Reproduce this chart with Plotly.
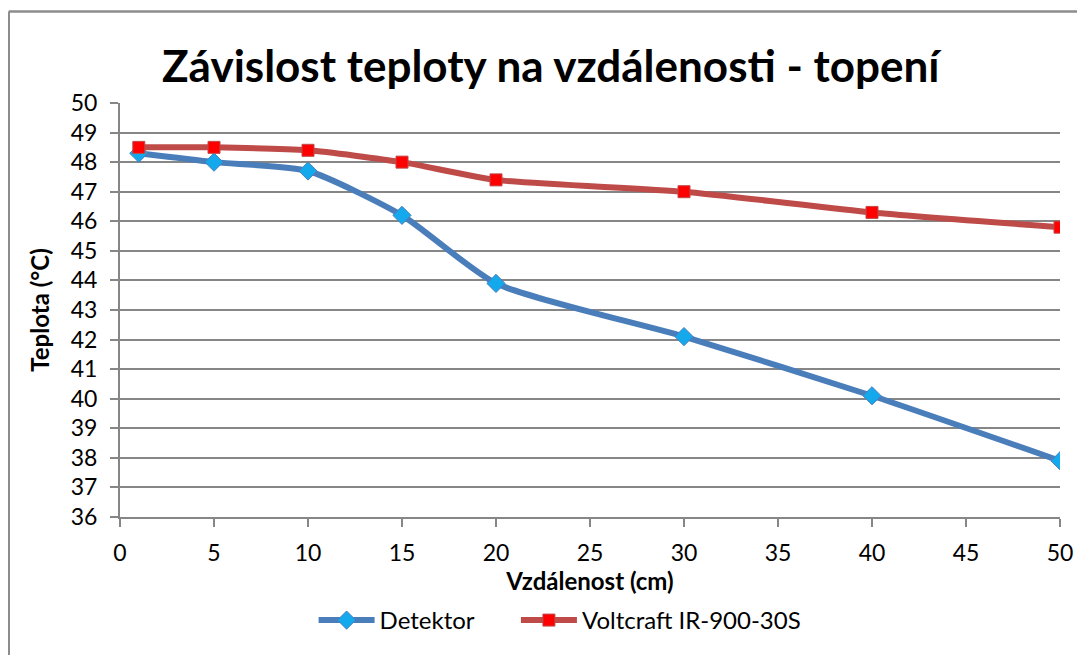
import plotly.graph_objects as go

x_cm = [1, 5, 10, 15, 20, 30, 40, 50]
detektor = [48.3, 48.0, 47.7, 46.2, 43.9, 42.1, 40.1, 37.9]
voltcraft = [48.5, 48.5, 48.4, 48.0, 47.4, 47.0, 46.3, 45.8]

series_names = ["Detektor", "Voltcraft IR-900-30S"]
title_text = "Závislost teploty na vzdálenosti - topení"
x_title = "Vzdálenost (cm)"
y_title = "Teplota (°C)"
font_family = "Lato, 'Open Sans', sans-serif"

# the page has an 8px body margin, so the figure is sized to fit the window
W, H = 1077, 647
ML, MR, MT, MB = 112, 23, 95, 136
PW, PH = W - ML - MR, H - MT - MB

fig = go.Figure()
fig.add_trace(go.Scatter(
    x=x_cm, y=detektor, name=series_names[0] + "&nbsp;" * 6, mode="lines+markers",
    line=dict(color="#4A7EBB", width=6, shape="spline", smoothing=0.6),
    marker=dict(symbol="diamond", size=14, color="#14A8EC", line=dict(color="#4A7EBB", width=1)),
))
fig.add_trace(go.Scatter(
    x=x_cm, y=voltcraft, name=series_names[1], mode="lines+markers",
    line=dict(color="#BE4B48", width=6, shape="spline", smoothing=0.6),
    marker=dict(symbol="square", size=12, color="#FF0000", line=dict(color="#BE4B48", width=1)),
))

fig.update_layout(
    width=W, height=H,
    paper_bgcolor="white", plot_bgcolor="white",
    margin=dict(l=ML, r=MR, t=MT, b=MB),
    font=dict(family=font_family, color="black", size=23),
    title=dict(text="<b>" + title_text + "</b>", x=0.504, xanchor="center", y=1 - 59 / H, yanchor="middle",
               font=dict(size=44, family=font_family, color="black")),
    showlegend=True,
    legend=dict(orientation="h", x=(306 - ML) / PW, xanchor="left", y=-(615 - (MT + PH)) / PH, yanchor="middle",
                font=dict(size=24), bgcolor="rgba(0,0,0,0)", itemwidth=56),
    xaxis=dict(range=[0, 50], tickmode="linear", tick0=0, dtick=5,
               showgrid=False, zeroline=False, showline=True, linecolor="#868686", linewidth=2,
               ticks="outside", ticklen=8, tickcolor="#868686", tickwidth=2,
               tickfont=dict(size=23), ticklabelstandoff=6,
               title=dict(text="<b>" + x_title + "</b>", font=dict(size=24), standoff=6)),
    yaxis=dict(range=[36, 50], tickmode="linear", tick0=36, dtick=1,
               showgrid=True, gridcolor="#868686", gridwidth=1.5, zeroline=False,
               showline=True, linecolor="#868686", linewidth=2,
               ticks="outside", ticklen=8, tickcolor="#868686", tickwidth=2,
               tickfont=dict(size=23), ticklabelstandoff=8,
               title=dict(text="<b>" + y_title + "</b>", font=dict(size=24), standoff=14)),
)

# chart frame (top and left edges visible in reference)
top_y = (H - MB - 3) / PH
left_x = (0.5 - ML) / PW
fig.add_shape(type="line", xref="paper", yref="paper",
              x0=left_x, x1=1.2, y0=top_y, y1=top_y,
              line=dict(color="#8C8C8C", width=2.5))
fig.add_shape(type="line", xref="paper", yref="paper",
              x0=left_x, x1=left_x, y0=top_y, y1=-0.5,
              line=dict(color="#8C8C8C", width=2.5))

fig.write_html("out.html")
